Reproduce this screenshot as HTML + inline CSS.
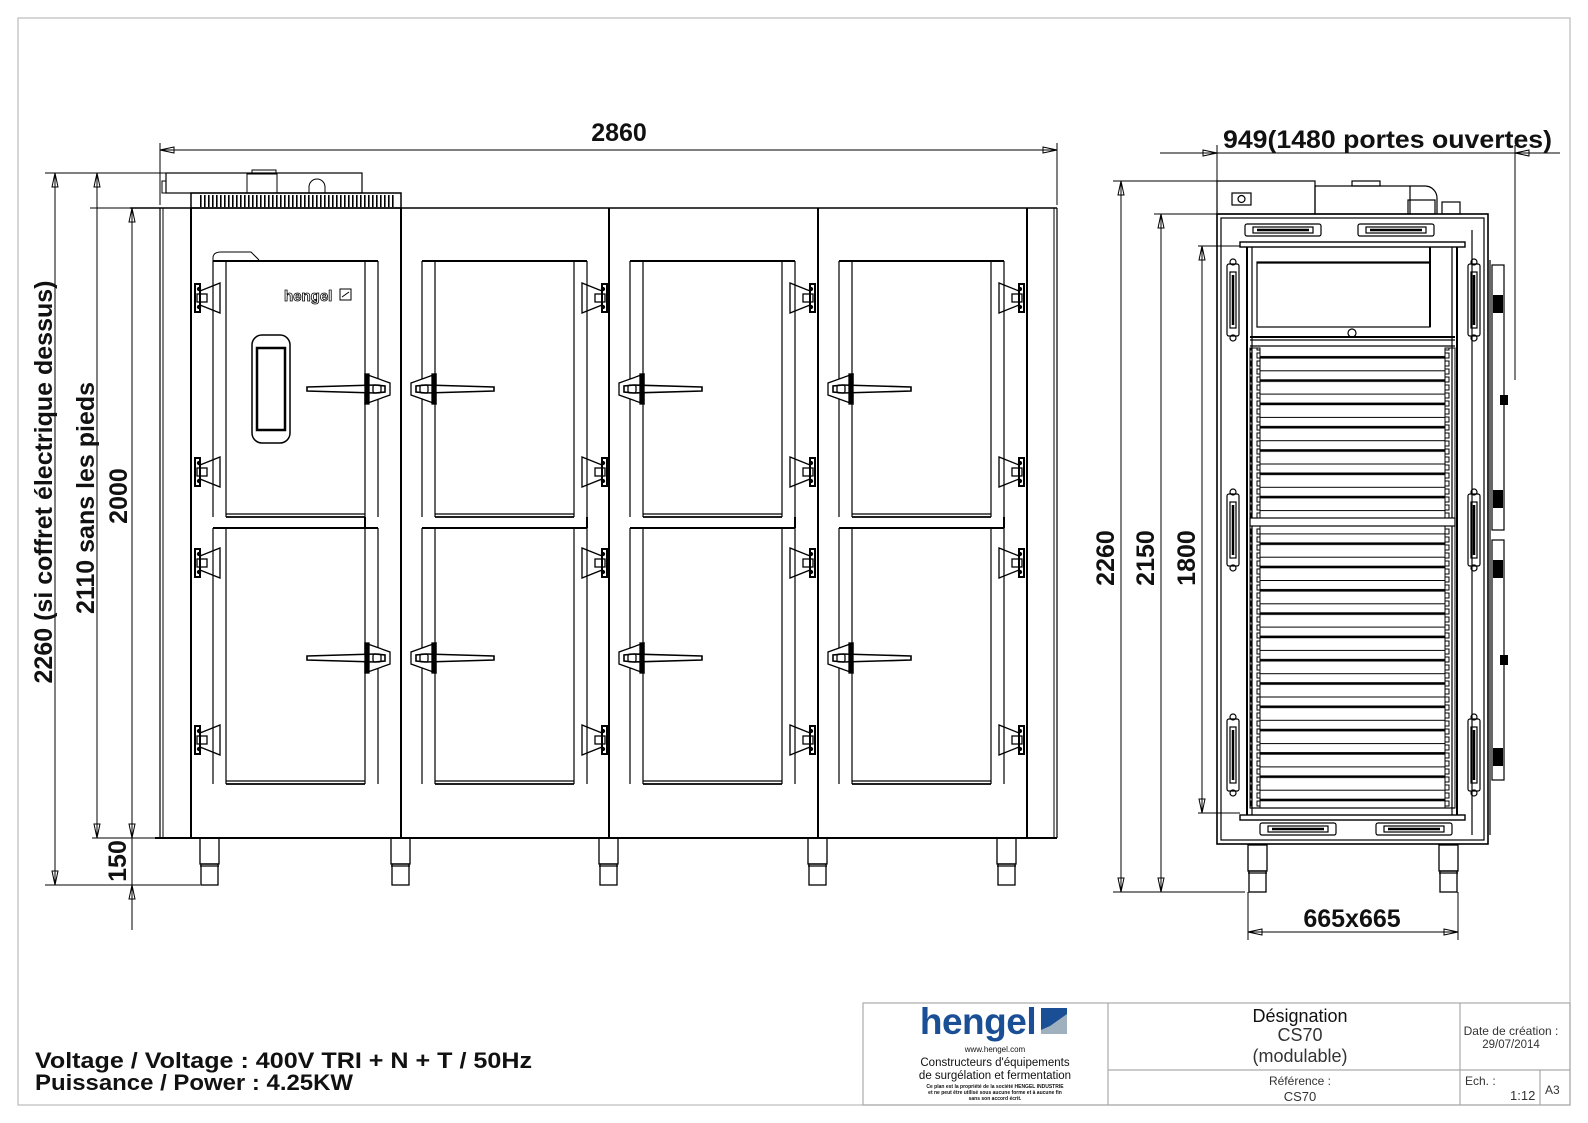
<!DOCTYPE html>
<html><head><meta charset="utf-8"><style>
html,body{margin:0;padding:0;background:#fff;}
svg{display:block;font-family:"Liberation Sans",sans-serif;}
.d{font-weight:bold;font-size:25px;fill:#111;}
</style></head><body>
<svg width="1588" height="1123" viewBox="0 0 1588 1123" xmlns="http://www.w3.org/2000/svg">
<defs>
<pattern id="grille" width="4" height="40" patternUnits="userSpaceOnUse"><rect x="0" y="0" width="1.6" height="40" fill="#000"/></pattern>
<pattern id="slat" width="10" height="23.3" patternUnits="userSpaceOnUse" y="347"><rect x="0" y="0" width="10" height="1" fill="#000"/><rect x="0" y="9" width="10" height="2.6" fill="#000"/></pattern>
<pattern id="post" width="11" height="8" patternUnits="userSpaceOnUse"><rect x="3" y="1" width="5" height="5" fill="none" stroke="#000" stroke-width="1"/></pattern>
<g id="win" fill="none" stroke="#000" stroke-width="1.2">
<line x1="0" y1="0" x2="0" y2="256"/><line x1="13" y1="0" x2="13" y2="256"/>
<line x1="152" y1="0" x2="152" y2="256"/><line x1="165" y1="0" x2="165" y2="256"/>
<line x1="0" y1="0" x2="165" y2="0" stroke-width="2"/>
<line x1="13" y1="253" x2="152" y2="253"/><line x1="13" y1="256" x2="152" y2="256" stroke-width="1.8"/>
</g>
<g id="hinge" fill="none" stroke="#000" stroke-width="1.3">
<rect x="-15" y="-14" width="5" height="28" stroke-width="2"/>
<polygon points="-10,-7 10,-15 10,15 -10,7"/>
<rect x="-13" y="-4" width="10" height="8"/>
<circle cx="-11" cy="-9" r="1.5" fill="#000"/><circle cx="-11" cy="9" r="1.5" fill="#000"/>
</g>
<g id="handleR" fill="none" stroke="#000" stroke-width="1.3">
<polygon points="0,-15 25,-6 25,6 0,15" fill="#fff"/>
<path d="M-58,-2 L10,-4 L20,-3 L20,3 L10,4 L-58,2 Z" stroke-width="1.6" fill="#fff"/>
<rect x="0" y="-15" width="4" height="30" fill="#000"/>
<rect x="8" y="-4" width="8" height="8" rx="2"/>
</g>
<g id="leg" fill="none" stroke="#000" stroke-width="1.3">
<rect x="0" y="0" width="19" height="26"/><rect x="1" y="26" width="17" height="21"/><line x1="0" y1="28" x2="19" y2="28"/>
</g>
<g id="shinge" fill="none" stroke="#000" stroke-width="1.2">
<rect x="-6" y="-36" width="12" height="72" rx="2"/><rect x="-3" y="-28" width="6" height="56"/><line x1="0" y1="-25" x2="0" y2="25" stroke-width="2.5"/><circle cx="0" cy="-38" r="3"/><circle cx="0" cy="38" r="3"/>
</g>
<g id="hhinge" fill="none" stroke="#000" stroke-width="1.2">
<rect x="-38" y="-6" width="76" height="12" rx="2"/><rect x="-30" y="-3" width="60" height="6"/><line x1="-26" y1="0" x2="26" y2="0" stroke-width="2.5"/>
</g>
</defs>

<rect x="18" y="18" width="1552" height="1087" fill="none" stroke="#bbb" stroke-width="1.2"/>

<g stroke="#000" fill="none">
<rect x="166" y="173" width="196" height="20" stroke-width="1.2"/>
<rect x="162" y="181" width="4" height="12" stroke-width="1"/>
<rect x="247" y="174" width="30" height="19" stroke-width="1"/>
<rect x="252" y="170" width="24" height="4" stroke-width="1"/>
<path d="M309,193 v-6 a8,8 0 0 1 16,0 v6" stroke-width="1"/>
<rect x="191" y="193" width="210" height="15" stroke-width="1.5"/>
<rect x="198" y="195" width="198" height="12" fill="url(#grille)" stroke="none"/>
<line x1="130" y1="208" x2="1057" y2="208" stroke-width="1.6"/>
<line x1="160" y1="208" x2="160" y2="838" stroke-width="1.2"/>
<line x1="163" y1="208" x2="163" y2="838" stroke-width="1"/>
<line x1="1057" y1="208" x2="1057" y2="838" stroke-width="1.2"/>
<line x1="1054" y1="208" x2="1054" y2="838" stroke-width="1"/>
<line x1="155" y1="838" x2="1057" y2="838" stroke-width="2"/>
<line x1="191" y1="208" x2="191" y2="838" stroke-width="2"/>
<line x1="401" y1="208" x2="401" y2="838" stroke-width="2"/>
<line x1="609" y1="208" x2="609" y2="838" stroke-width="2"/>
<line x1="818" y1="208" x2="818" y2="838" stroke-width="2"/>
<line x1="1027" y1="208" x2="1027" y2="838" stroke-width="2"/>
</g>
<use href="#win" x="213" y="261"/><use href="#win" x="213" y="528"/>
<use href="#win" x="422" y="261"/><use href="#win" x="422" y="528"/>
<use href="#win" x="630" y="261"/><use href="#win" x="630" y="528"/>
<use href="#win" x="839" y="261"/><use href="#win" x="839" y="528"/>
<g stroke="#000" stroke-width="2"><line x1="365" y1="517" x2="365" y2="528"/><line x1="587" y1="517" x2="587" y2="528"/><line x1="795" y1="517" x2="795" y2="528"/><line x1="1004" y1="517" x2="1004" y2="528"/></g>
<use href="#hinge" transform="translate(210,298)"/><use href="#hinge" transform="translate(210,472)"/>
<use href="#hinge" transform="translate(210,563)"/><use href="#hinge" transform="translate(210,740)"/>
<use href="#hinge" transform="translate(592,298) scale(-1,1)"/><use href="#hinge" transform="translate(592,472) scale(-1,1)"/>
<use href="#hinge" transform="translate(592,563) scale(-1,1)"/><use href="#hinge" transform="translate(592,740) scale(-1,1)"/>
<use href="#hinge" transform="translate(800,298) scale(-1,1)"/><use href="#hinge" transform="translate(800,472) scale(-1,1)"/>
<use href="#hinge" transform="translate(800,563) scale(-1,1)"/><use href="#hinge" transform="translate(800,740) scale(-1,1)"/>
<use href="#hinge" transform="translate(1009,298) scale(-1,1)"/><use href="#hinge" transform="translate(1009,472) scale(-1,1)"/>
<use href="#hinge" transform="translate(1009,563) scale(-1,1)"/><use href="#hinge" transform="translate(1009,740) scale(-1,1)"/>
<use href="#handleR" transform="translate(365,389)"/><use href="#handleR" transform="translate(365,658)"/>
<use href="#handleR" transform="translate(436,389) scale(-1,1)"/><use href="#handleR" transform="translate(436,658) scale(-1,1)"/>
<use href="#handleR" transform="translate(644,389) scale(-1,1)"/><use href="#handleR" transform="translate(644,658) scale(-1,1)"/>
<use href="#handleR" transform="translate(853,389) scale(-1,1)"/><use href="#handleR" transform="translate(853,658) scale(-1,1)"/>
<g fill="none" stroke="#000" stroke-width="1.5">
<rect x="252" y="335" width="38" height="108" rx="10"/>
<rect x="257" y="348" width="28" height="82" stroke-width="2.5"/>
<path d="M213,270 v-12 q0,-6 8,-6 h30 l8,8" stroke-width="1"/>
</g>
<text x="284" y="301" font-size="15" font-weight="bold" fill="#fff" stroke="#000" stroke-width="0.8">hengel</text>
<rect x="340" y="289" width="11" height="11" fill="none" stroke="#000"/><line x1="342" y1="297" x2="349" y2="292" stroke="#000"/>
<use href="#leg" x="200" y="838"/><use href="#leg" x="391" y="838"/><use href="#leg" x="599" y="838"/><use href="#leg" x="808" y="838"/><use href="#leg" x="997" y="838"/>

<g stroke="#000" stroke-width="1" fill="none">
<line x1="160" y1="143" x2="160" y2="205"/><line x1="1057" y1="143" x2="1057" y2="205"/>
<line x1="160" y1="150" x2="1057" y2="150"/>
<path d="M160,150 l14,-3 v6 z M1057,150 l-14,-3 v6 z"/>
<line x1="45" y1="173" x2="166" y2="173"/>
<line x1="45" y1="885" x2="200" y2="885"/>
<line x1="55" y1="173" x2="55" y2="885"/>
<path d="M55,173 l-3,14 h6 z M55,885 l-3,-14 h6 z"/>
<line x1="90" y1="208" x2="130" y2="208"/>
<line x1="97" y1="173" x2="97" y2="838"/>
<path d="M97,173 l-3,14 h6 z M97,838 l-3,-14 h6 z"/>
<line x1="92" y1="838" x2="160" y2="838"/>
<line x1="132" y1="208" x2="132" y2="930"/>
<path d="M132,208 l-3,14 h6 z M132,838 l-3,-14 h6 z M132,885 l-3,14 h6 z"/>
</g>
<text class="d" x="619" y="141" text-anchor="middle">2860</text>
<text class="d" transform="translate(52,482) rotate(-90)" text-anchor="middle">2260 (si coffret électrique dessus)</text>
<text class="d" transform="translate(94,498) rotate(-90)" text-anchor="middle">2110 sans les pieds</text>
<text class="d" transform="translate(127,496) rotate(-90)" text-anchor="middle">2000</text>
<text class="d" transform="translate(126,861) rotate(-90)" text-anchor="middle">150</text>

<g stroke="#000" fill="none" stroke-width="1.2">
<rect x="1217" y="181" width="98" height="33"/>
<rect x="1232" y="193" width="19" height="12"/><circle cx="1241.5" cy="199" r="3.5"/>
<rect x="1315" y="186" width="95" height="28"/>
<rect x="1352" y="181" width="28" height="5"/>
<path d="M1410,186 h15 a12,12 0 0 1 12,12 v16"/>
<rect x="1408" y="200" width="27" height="14"/>
<rect x="1442" y="202" width="18" height="12"/>
<rect x="1217" y="214" width="271" height="630" stroke-width="1.6"/>
<rect x="1221" y="218" width="263" height="622"/>
<rect x="1240" y="242" width="225" height="5" stroke-width="1.4"/>
<rect x="1240" y="815" width="225" height="5" stroke-width="1.4"/>
<line x1="1247" y1="247" x2="1247" y2="815" stroke-width="2"/>
<line x1="1252" y1="247" x2="1252" y2="815"/>
<line x1="1457" y1="247" x2="1457" y2="815" stroke-width="2"/>
<line x1="1452" y1="247" x2="1452" y2="815"/>
<rect x="1257" y="262" width="173" height="65"/>
<line x1="1257" y1="263" x2="1430" y2="263"/>
<line x1="1430" y1="247" x2="1430" y2="327" stroke-width="2"/>
<line x1="1250" y1="337" x2="1455" y2="337" stroke-width="2"/>
<line x1="1250" y1="340" x2="1455" y2="340"/>
<line x1="1250" y1="346" x2="1455" y2="346"/>
<circle cx="1352" cy="333" r="4"/>
<rect x="1260" y="348" width="185" height="460" fill="url(#slat)" stroke="none"/>
<rect x="1250" y="348" width="10" height="460" fill="url(#post)" stroke="#000" stroke-width="1"/>
<rect x="1445" y="348" width="10" height="460" fill="url(#post)" stroke="#000" stroke-width="1"/>
<rect x="1250" y="518" width="205" height="8" fill="#fff" stroke-width="1.2"/>
<line x1="1250" y1="808" x2="1455" y2="808"/>
<line x1="1472" y1="230" x2="1472" y2="835"/>
<line x1="1490" y1="260" x2="1490" y2="835"/>
<rect x="1492" y="265" width="12" height="265"/>
<rect x="1492" y="540" width="12" height="240"/>
</g>
<use href="#hhinge" transform="translate(1298,829)"/><use href="#hhinge" transform="translate(1414,829)"/>
<use href="#hhinge" transform="translate(1283,230)"/><use href="#hhinge" transform="translate(1396,230)"/>
<use href="#shinge" transform="translate(1233,300)"/><use href="#shinge" transform="translate(1233,530)"/><use href="#shinge" transform="translate(1233,755)"/>
<use href="#shinge" transform="translate(1474,300)"/><use href="#shinge" transform="translate(1474,530)"/><use href="#shinge" transform="translate(1474,755)"/>
<g fill="#000"><rect x="1493" y="295" width="10" height="18"/><rect x="1493" y="490" width="10" height="18"/><rect x="1493" y="560" width="10" height="18"/><rect x="1493" y="748" width="10" height="18"/><rect x="1500" y="395" width="8" height="10"/><rect x="1500" y="655" width="8" height="10"/></g>
<use href="#leg" x="1248" y="845"/><use href="#leg" x="1439" y="845"/>

<g stroke="#000" stroke-width="1" fill="none">
<line x1="1217" y1="145" x2="1217" y2="181"/><line x1="1515" y1="145" x2="1515" y2="380"/>
<line x1="1160" y1="153" x2="1560" y2="153"/>
<path d="M1217,153 l-14,-3 v6 z M1515,153 l14,-3 v6 z"/>
<line x1="1113" y1="181" x2="1217" y2="181"/>
<line x1="1121" y1="181" x2="1121" y2="892"/>
<path d="M1121,181 l-3,14 h6 z M1121,892 l-3,-14 h6 z"/>
<line x1="1154" y1="214" x2="1217" y2="214"/>
<line x1="1161" y1="214" x2="1161" y2="892"/>
<path d="M1161,214 l-3,14 h6 z M1161,892 l-3,-14 h6 z"/>
<line x1="1113" y1="892" x2="1245" y2="892"/>
<line x1="1198" y1="246" x2="1240" y2="246"/>
<line x1="1202" y1="246" x2="1202" y2="813"/>
<path d="M1202,246 l-3,14 h6 z M1202,813 l-3,-14 h6 z"/>
<line x1="1198" y1="813" x2="1240" y2="813"/>
<line x1="1248" y1="892" x2="1248" y2="940"/><line x1="1458" y1="892" x2="1458" y2="940"/>
<line x1="1248" y1="932" x2="1458" y2="932"/>
<path d="M1248,932 l14,-3 v6 z M1458,932 l-14,-3 v6 z"/>
</g>
<text class="d" x="1223" y="148" font-size="26" textLength="329" lengthAdjust="spacingAndGlyphs">949(1480 portes ouvertes)</text>
<text class="d" transform="translate(1114,558) rotate(-90)" text-anchor="middle">2260</text>
<text class="d" transform="translate(1154,558) rotate(-90)" text-anchor="middle">2150</text>
<text class="d" transform="translate(1195,558) rotate(-90)" text-anchor="middle">1800</text>
<text class="d" x="1352" y="927" text-anchor="middle">665x665</text>

<text x="35" y="1068" font-size="22" font-weight="bold" fill="#111" textLength="497" lengthAdjust="spacingAndGlyphs">Voltage / Voltage  :  400V TRI + N + T / 50Hz</text>
<text x="35" y="1090" font-size="22" font-weight="bold" fill="#111" textLength="318" lengthAdjust="spacingAndGlyphs">Puissance / Power  : 4.25KW</text>

<g stroke="#aaa" stroke-width="1.2" fill="none">
<rect x="863" y="1003" width="707" height="102"/>
<line x1="1108" y1="1003" x2="1108" y2="1105"/>
<line x1="1460" y1="1003" x2="1460" y2="1105"/>
<line x1="1108" y1="1070" x2="1570" y2="1070"/>
<line x1="1540" y1="1070" x2="1540" y2="1105"/>
</g>
<text x="978" y="1034" font-size="37" font-weight="bold" fill="#1a4f96" text-anchor="middle" letter-spacing="-0.5">hengel</text>
<polygon points="1041,1008 1067,1008 1067,1034 1041,1034" fill="#9fb0bf"/>
<polygon points="1041,1008 1067,1008 1067,1014 1050,1026 1041,1030" fill="#1a4f96"/>
<text x="995" y="1052" font-size="8" text-anchor="middle" fill="#111">www.hengel.com</text>
<text x="995" y="1066" font-size="11.5" text-anchor="middle" fill="#111">Constructeurs d'équipements</text>
<text x="995" y="1079" font-size="11.5" text-anchor="middle" fill="#111">de surgélation et fermentation</text>
<text x="995" y="1088" font-size="5" font-weight="bold" text-anchor="middle" fill="#111">Ce plan est la propriété de la société HENGEL INDUSTRIE</text>
<text x="995" y="1094" font-size="5" font-weight="bold" text-anchor="middle" fill="#111">et ne peut être utilisé sous aucune forme et à aucune fin</text>
<text x="995" y="1100" font-size="5" font-weight="bold" text-anchor="middle" fill="#111">sans son accord écrit.</text>
<text x="1300" y="1022" font-size="18" text-anchor="middle" fill="#111">Désignation</text>
<text x="1300" y="1041" font-size="18" text-anchor="middle" fill="#333">CS70</text>
<text x="1300" y="1062" font-size="18" text-anchor="middle" fill="#333">(modulable)</text>
<text x="1300" y="1085" font-size="12" text-anchor="middle" fill="#333">Référence :</text>
<text x="1300" y="1101" font-size="13" text-anchor="middle" fill="#333">CS70</text>
<text x="1511" y="1035" font-size="12" text-anchor="middle" fill="#333">Date de création :</text>
<text x="1511" y="1048" font-size="11.5" text-anchor="middle" fill="#333">29/07/2014</text>
<text x="1465" y="1085" font-size="12" fill="#333">Ech. :</text>
<text x="1510" y="1100" font-size="13" fill="#333">1:12</text>
<text x="1545" y="1094" font-size="12" fill="#333">A3</text>
</svg>
</body></html>
